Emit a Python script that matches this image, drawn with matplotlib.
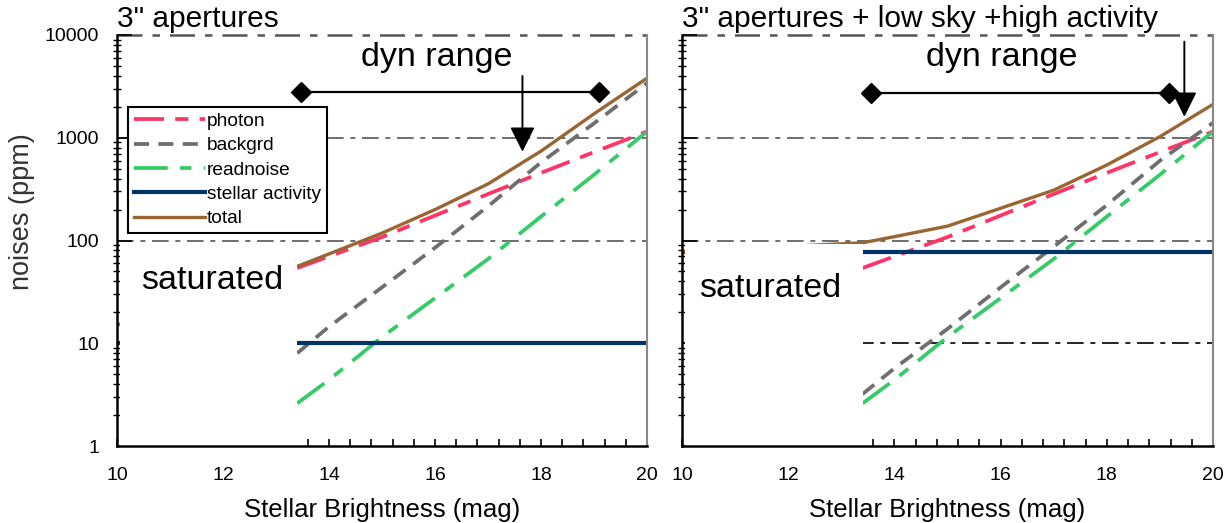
import matplotlib
matplotlib.use('Agg')
import matplotlib.pyplot as plt
from matplotlib.patches import Rectangle
from matplotlib.ticker import MultipleLocator, LogLocator, NullFormatter, FixedLocator

plt.rcParams['font.family'] = ['Liberation Sans', 'DejaVu Sans']

# magnitudes of the computed points (saturation limit at 13.4)
mag = [13.4, 14, 15, 16, 17, 18, 19, 20]
mag_tot = [10, 13.4, 14, 15, 16, 17, 18, 19, 20]
mag_act = [10, 20]

# left panel: 3" apertures
photon_l = [54, 70, 108, 175, 283, 455, 725, 1150]
backgrd_l = [8, 14.5, 35, 85, 215, 575, 1380, 3400]
readnoise_l = [2.6, 4.4, 11.5, 27.5, 66, 171, 437, 1150]
activity_l = [10, 10]
total_l = [15, 56, 74, 118, 200, 355, 741, 1710, 3800]

# right panel: 3" apertures + low sky + high activity
photon_r = [54, 70, 108, 175, 283, 455, 725, 1150]
backgrd_r = [3.2, 5.7, 13.8, 35, 87, 221, 598, 1400]
readnoise_r = [2.6, 4.4, 11.5, 27.5, 66, 171, 437, 1150]
activity_r = [78, 78]
total_r = [78, 95, 109, 138, 206, 309, 543, 1025, 2115]

# dynamic range annotations: (start mag, end mag, level), arrow (mag, top, tip)
dyn_l = (13.47, 19.10, 2790)
dyn_r = (13.56, 19.17, 2750)
arrow_l = (17.65, 3990, 731)
arrow_r = (19.46, 8600, 1600)

SAT_LIMIT = 13.4

c_photon = '#ff3366'
c_bg = '#6e6e6e'
c_rn = '#33cc66'
c_act = '#003366'
c_tot = '#996633'

fig = plt.figure(figsize=(12.31, 5.23), dpi=100)
ax1 = fig.add_axes([0.0950, 0.1472, 0.4306, 0.7859])
ax2 = fig.add_axes([0.5540, 0.1472, 0.4314, 0.7859])


def panel(ax, photon, backgrd, readnoise, activity, total, dyn, arrow, title, sat_x, sat_y):
    grid = dict(color='#555555', lw=1.2, dashes=(10, 4, 3, 4), zorder=1)
    for lev in [100, 1000]:
        ax.axhline(lev, **grid)
    ax.axhline(10000, color='#555555', lw=1.8, dashes=(10, 4, 3, 4), zorder=1, clip_on=False)
    ax.axhline(10, color='black', lw=1.2, dashes=(10, 4, 3, 4), zorder=1)

    ax.plot(mag, photon, color=c_photon, lw=2.7, dashes=(8, 3, 3.5, 3), label='photon')
    ax.plot(mag, backgrd, color=c_bg, lw=2.7, dashes=(4, 2.5), label='backgrd')
    ax.plot(mag, readnoise, color=c_rn, lw=2.7, dashes=(9, 3.3, 3, 3.3), label='readnoise')
    ax.plot(mag_act, activity, color=c_act, lw=3.0, label='stellar activity')
    ax.plot(mag_tot, total, color=c_tot, lw=2.4, label='total')

    # white mask over the saturated region
    ax.add_patch(Rectangle((10.06, 1), SAT_LIMIT - 10.06, 92.5, facecolor='white',
                           edgecolor='none', zorder=2.2))

    ax.plot([dyn[0], dyn[1]], [dyn[2], dyn[2]], color='black', lw=1.6,
            marker='D', ms=10, zorder=4)
    ax.annotate('', xy=(arrow[0], arrow[2]), xytext=(arrow[0], arrow[1]),
                arrowprops=dict(arrowstyle='-|>', color='black', lw=1.4,
                                mutation_scale=38, shrinkA=0, shrinkB=0), zorder=4)
    ax.text(16.03, 6100, 'dyn range', fontsize=24.5, ha='center', va='center')
    ax.text(sat_x, sat_y, 'saturated', fontsize=24.5, ha='left', va='center', zorder=5)

    ax.set_title(title, loc='left', fontsize=21.5, pad=6)
    ax.set_yscale('log')
    ax.set_xlim(10, 20)
    ax.set_ylim(1, 10000)
    ax.xaxis.set_major_locator(MultipleLocator(2))
    ax.xaxis.set_minor_locator(MultipleLocator(0.4))
    ax.yaxis.set_major_locator(FixedLocator([1, 10, 100, 1000, 10000]))
    ax.yaxis.set_minor_locator(LogLocator(base=10, subs=range(2, 10)))
    ax.yaxis.set_minor_formatter(NullFormatter())
    ax.tick_params(axis='x', which='both', direction='in', length=5, width=1.2,
                   labelsize=14, pad=15, top=False)
    ax.tick_params(axis='y', which='major', direction='in', length=11, width=1.2,
                   labelsize=14, pad=13, right=False)
    ax.tick_params(axis='y', which='minor', direction='inout', length=6, width=1.0,
                   right=False)
    ax.set_xlabel('Stellar Brightness (mag)', fontsize=18.5, labelpad=10)
    ax.spines['top'].set_visible(False)
    ax.spines['right'].set_color('#888888')
    ax.spines['right'].set_linewidth(1.5)
    for s in ['left', 'bottom']:
        ax.spines[s].set_linewidth(1.8)
        ax.spines[s].set_zorder(6)


panel(ax1, photon_l, backgrd_l, readnoise_l, activity_l, total_l, dyn_l, arrow_l,
      '3" apertures', 10.45, 41)
panel(ax2, photon_r, backgrd_r, readnoise_r, activity_r, total_r, dyn_r, arrow_r,
      '3" apertures + low sky +high activity', 10.33, 34)

ax1.set_yticklabels(['1', '10', '100', '1000', '10000'])
ax2.set_yticklabels([])
ax1.set_ylabel('noises (ppm)', fontsize=19.5, color='#333333')
ax1.yaxis.set_label_coords(-0.155, 0.57)

leg = ax1.legend(loc='upper left', bbox_to_anchor=(0.021, 0.825), borderaxespad=0,
                 fontsize=13.8, handlelength=3.7, handletextpad=0.1, labelspacing=0.36,
                 borderpad=0.3, fancybox=False, framealpha=1, edgecolor='black')
leg.get_frame().set_linewidth(1.5)
leg.set_zorder(7)

fig.savefig('out.png', dpi=100)
